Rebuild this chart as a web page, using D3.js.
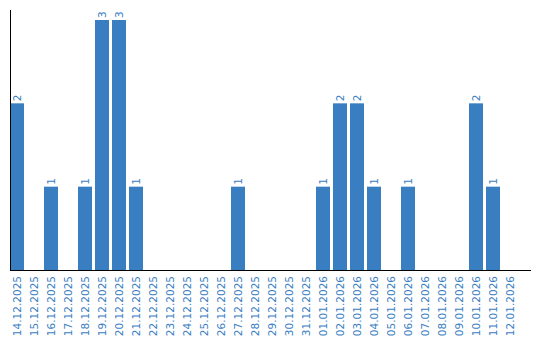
<!DOCTYPE html>
<html><head><meta charset="utf-8">
<script src="https://cdn.jsdelivr.net/npm/d3@7"></script>
<style>body{margin:0;background:#fff}svg{display:block}</style>
</head><body>
<script>
const categories = ["14.12.2025","15.12.2025","16.12.2025","17.12.2025","18.12.2025","19.12.2025","20.12.2025","21.12.2025","22.12.2025","23.12.2025","24.12.2025","25.12.2025","26.12.2025","27.12.2025","28.12.2025","29.12.2025","30.12.2025","31.12.2025","01.01.2026","02.01.2026","03.01.2026","04.01.2026","05.01.2026","06.01.2026","07.01.2026","08.01.2026","09.01.2026","10.01.2026","11.01.2026","12.01.2026"];
const values = [2,0,1,0,1,3,3,1,0,0,0,0,0,1,0,0,0,0,1,2,2,1,0,1,0,0,0,2,1,0];

const W = 540, H = 340;
const color = "#3a7ec2";
const svg = d3.select("body").append("svg").attr("width", W).attr("height", H);

const x = d3.scaleBand().domain(categories).range([10, 10 + 17 * (30 - 3/17)]).paddingInner(3/17).paddingOuter(0);
const y = d3.scaleLinear().domain([0, 3]).range([270, 20]);

svg.append("g").selectAll("rect").data(values).join("rect")
  .attr("x", (d, i) => x(categories[i]))
  .attr("y", d => y(d))
  .attr("width", x.bandwidth())
  .attr("height", d => y(0) - y(d))
  .attr("fill", color);

svg.append("g").selectAll("text").data(values.map((v, i) => ({v, c: categories[i]})).filter(d => d.v > 0)).join("text")
  .attr("transform", d => `translate(${x(d.c) + x.bandwidth()/2},${y(d.v) - 2}) rotate(-90)`)
  .attr("dy", "0.35em")
  .attr("text-anchor", "start")
  .attr("font-family", "DejaVu Sans")
  .attr("font-size", 10.5)
  .attr("fill", color)
  .text(d => d.v);

const xAxis = svg.append("g").attr("transform", "translate(0,270)")
  .call(d3.axisBottom(x).tickSize(0).tickPadding(0));
xAxis.select(".domain").remove();
xAxis.selectAll("text")
  .attr("font-family", "DejaVu Sans")
  .attr("font-size", 10.5)
  .attr("fill", color)
  .attr("transform", "rotate(-90)")
  .attr("text-anchor", "end")
  .attr("x", -6)
  .attr("y", 0)
  .attr("dy", "0.35em");

svg.append("line").attr("x1", 10.5).attr("x2", 10.5).attr("y1", 10).attr("y2", 270).attr("stroke", "#000");
svg.append("line").attr("x1", 10).attr("x2", 531).attr("y1", 270.5).attr("y2", 270.5).attr("stroke", "#000");
</script>
</body></html>
